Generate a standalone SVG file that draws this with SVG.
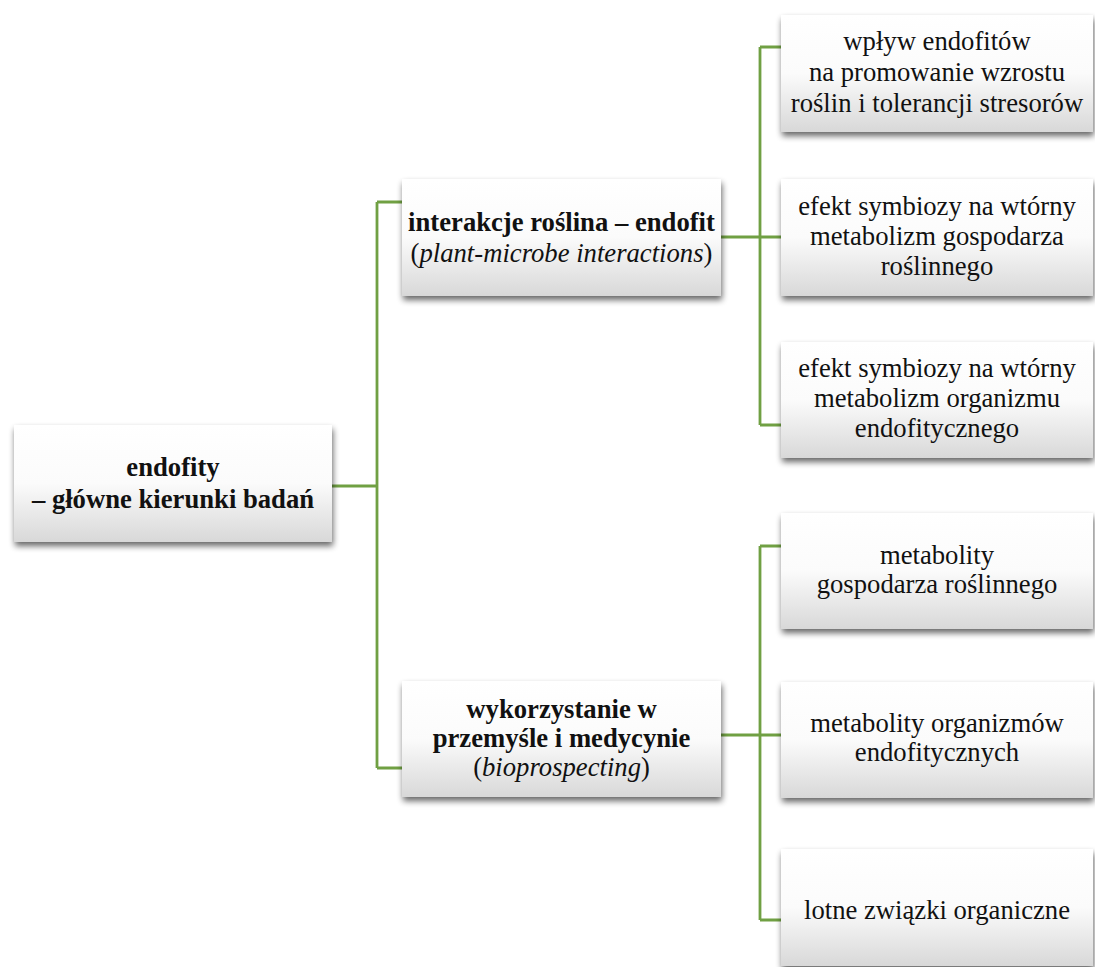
<svg xmlns="http://www.w3.org/2000/svg" width="1095" height="967" viewBox="0 0 1095 967" font-family="'Liberation Serif', Tinos, 'Times New Roman', 'DejaVu Serif', serif">
<style>
.box{fill:url(#g);filter:url(#sh)}
.t{font-family:'Liberation Serif', Tinos, 'Times New Roman', 'DejaVu Serif', serif;font-size:26.67px;fill:#111111;text-anchor:middle}
.b{font-weight:bold}
.i{font-style:italic}
.c{fill:none;stroke:#70A043;stroke-width:2.8}
</style>
<defs>
<linearGradient id="g" x1="0" y1="0" x2="0" y2="1">
<stop offset="0" stop-color="#ffffff"/>
<stop offset="0.5" stop-color="#fbfbfb"/>
<stop offset="1" stop-color="#d8d8d8"/>
</linearGradient>
<filter id="sh" x="-10%" y="-10%" width="120%" height="130%">
<feGaussianBlur in="SourceAlpha" stdDeviation="3"/>
<feOffset dx="1" dy="4" result="o"/>
<feComponentTransfer><feFuncA type="linear" slope="0.6"/></feComponentTransfer>
<feMerge><feMergeNode/><feMergeNode in="SourceGraphic"/></feMerge>
</filter>
</defs>
<rect width="1095" height="967" fill="#ffffff"/>
<g id="connectors">
<path class="c" d="M332 486H377M377 202V768M377 202H402M377 768H402"/>
<path class="c" d="M721 237H781M760 47V425M760 47H782M760 425H782"/>
<path class="c" d="M721 735H781M760 546V920M760 546H782M760 920H782"/>
</g>
<g id="root">
<rect class="box" x="14" y="425" width="318" height="117"/>
<text class="t b" x="173" y="476">endofity</text>
<text class="t b" x="173" y="508">– główne kierunki badań</text>
</g>
<g id="mid1">
<rect class="box" x="402" y="179" width="319" height="117"/>
<text class="t b" x="561.5" y="231">interakcje roślina – endofit</text>
<text class="t" x="561.5" y="262">(<tspan class="i">plant-microbe interactions</tspan>)</text>
</g>
<g id="mid2">
<rect class="box" x="402" y="681" width="319" height="116"/>
<text class="t b" x="561.5" y="718">wykorzystanie w</text>
<text class="t b" x="561.5" y="747">przemyśle i medycynie</text>
<text class="t" x="561.5" y="776">(<tspan class="i">bioprospecting</tspan>)</text>
</g>
<g id="leaf1">
<rect class="box" x="781" y="15" width="312" height="117"/>
<text class="t" x="937" y="50">wpływ endofitów</text>
<text class="t" x="937" y="81">na promowanie wzrostu</text>
<text class="t" x="937" y="112">roślin i tolerancji stresorów</text>
</g>
<g id="leaf2">
<rect class="box" x="781" y="179" width="312" height="117"/>
<text class="t" x="937" y="215">efekt symbiozy na wtórny</text>
<text class="t" x="937" y="245">metabolizm gospodarza</text>
<text class="t" x="937" y="275">roślinnego</text>
</g>
<g id="leaf3">
<rect class="box" x="781" y="342" width="312" height="116"/>
<text class="t" x="937" y="377">efekt symbiozy na wtórny</text>
<text class="t" x="937" y="407">metabolizm organizmu</text>
<text class="t" x="937" y="437">endofitycznego</text>
</g>
<g id="leaf4">
<rect class="box" x="781" y="513" width="312" height="116"/>
<text class="t" x="937" y="564">metabolity</text>
<text class="t" x="937" y="593">gospodarza roślinnego</text>
</g>
<g id="leaf5">
<rect class="box" x="781" y="682" width="312" height="116"/>
<text class="t" x="937" y="732">metabolity organizmów</text>
<text class="t" x="937" y="761">endofitycznych</text>
</g>
<g id="leaf6">
<rect class="box" x="781" y="849" width="312" height="117"/>
<text class="t" x="937" y="919">lotne związki organiczne</text>
</g>
</svg>
